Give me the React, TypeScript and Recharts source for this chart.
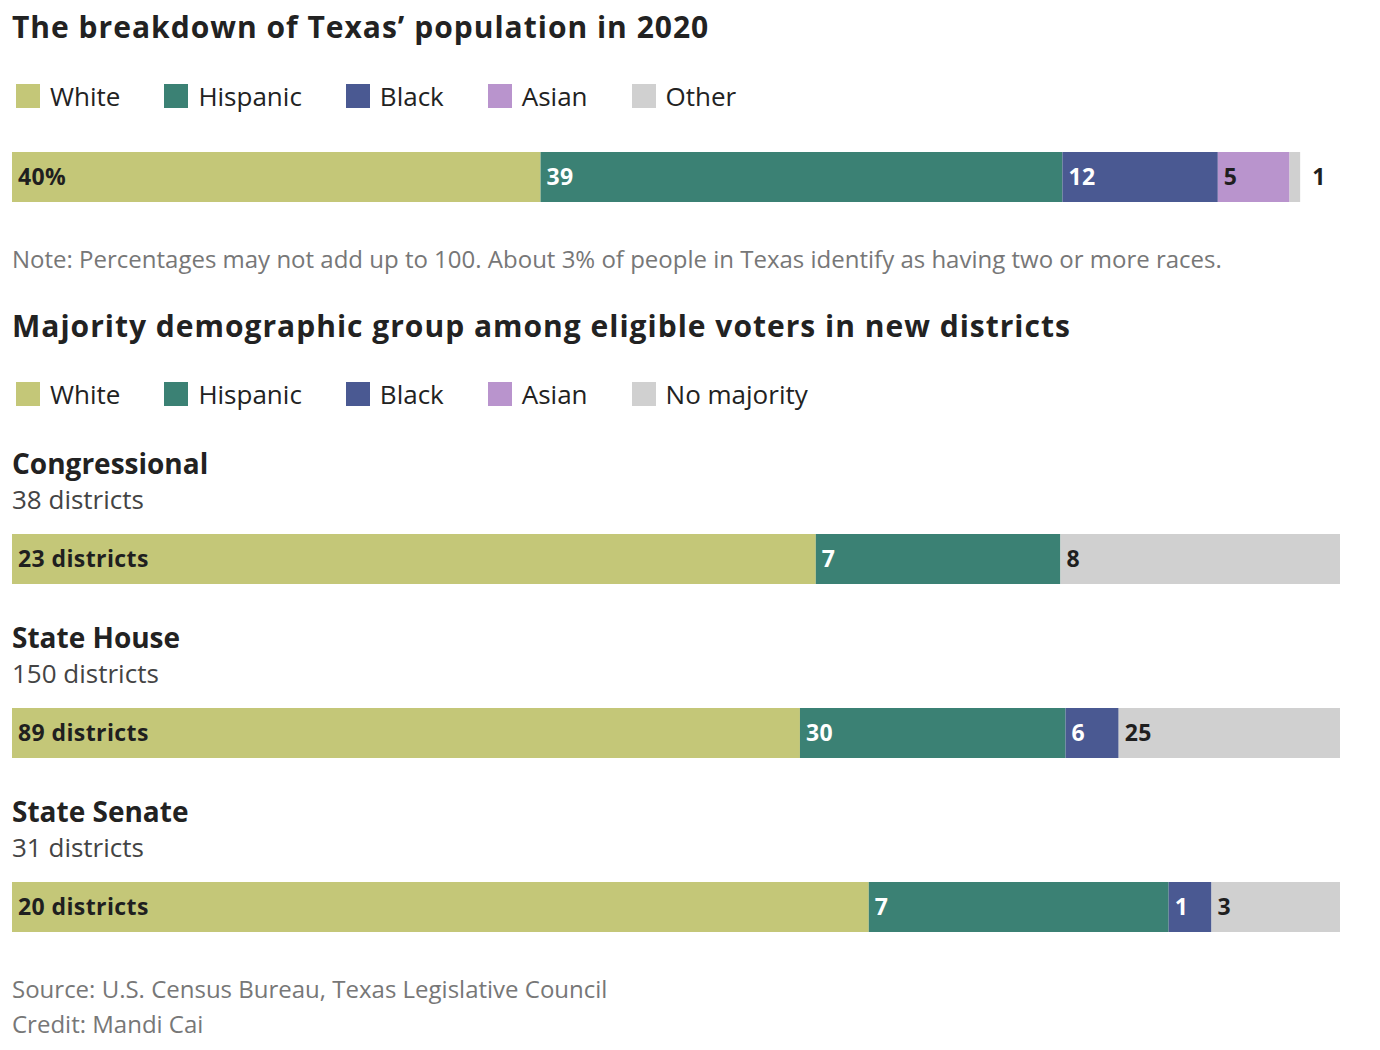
import React from 'react';
import { BarChart, Bar, XAxis, YAxis, LabelList } from 'recharts';

// ---------- data ----------
const popCategories = ['White', 'Hispanic', 'Black', 'Asian', 'Other'];
const popValues = [39.8, 39.3, 11.7, 5.4, 0.8];
const popLabels = ['40%', '39', '12', '5', '1'];

const districtCategories = ['White', 'Hispanic', 'Black', 'Asian', 'No majority'];
const chambers = ['Congressional', 'State House', 'State Senate'];
const chamberTotals = [38, 150, 31];
const whiteDistricts = [23, 89, 20];
const hispanicDistricts = [7, 30, 7];
const blackDistricts = [0, 6, 1];
const asianDistricts = [0, 0, 0];
const noMajorityDistricts = [8, 25, 3];

// ---------- styles ----------
const COLORS = ['#c4c778', '#3b8174', '#4a5992', '#b994cd', '#d0d0d0'];
const LABEL_COLORS = ['#1f1f1f', '#ffffff', '#ffffff', '#1f1f1f', '#1f1f1f'];
const FONT = '"Open Sans", "Noto Sans", sans-serif';
const LEFT = 12;
const CHART_W = 1328;
const BAR_H = 50;

const abs = (top: number, extra: React.CSSProperties = {}): React.CSSProperties => ({
  position: 'absolute',
  left: LEFT,
  top,
  margin: 0,
  lineHeight: 1,
  whiteSpace: 'nowrap',
  ...extra,
});

function Legend({ top, items }: { top: number; items: string[] }) {
  return (
    <div style={{ position: 'absolute', left: 16, top, display: 'flex', alignItems: 'center', height: 26 }}>
      {items.map((name, i) => (
        <div key={name} style={{ display: 'flex', alignItems: 'center', marginRight: 44 }}>
          <div style={{ width: 24, height: 24, background: COLORS[i], marginRight: 10 }} />
          <span style={{ fontSize: 26, color: '#222', lineHeight: 1, fontFamily: FONT }}>{name}</span>
        </div>
      ))}
    </div>
  );
}

const makeLabel = (idx: number, fmt: (v: number) => string, outside = false) => (props: any) => {
  const { x, y, width, height, value } = props;
  if (!value) return null;
  const tx = outside ? x + width + 12 : x + 6;
  return (
    <text
      x={tx}
      y={y + height / 2 - 1.5}
      fill={outside ? '#1f1f1f' : LABEL_COLORS[idx]}
      fontFamily={FONT}
      fontWeight={700}
      fontSize={23}
      letterSpacing={0.4}
      dominantBaseline="central"
    >
      {fmt(value)}
    </text>
  );
};

function StackBar({
  top,
  keys,
  row,
  max,
  formats,
  outsideIdx = -1,
}: {
  top: number;
  keys: string[];
  row: Record<string, any>;
  max: number;
  formats: ((v: number) => string)[];
  outsideIdx?: number;
}) {
  return (
    <div style={{ position: 'absolute', left: LEFT, top }}>
      <BarChart
        width={CHART_W}
        height={BAR_H}
        data={[row]}
        layout="vertical"
        margin={{ top: 0, right: 0, bottom: 0, left: 0 }}
        barCategoryGap={0}
      >
        <XAxis type="number" hide domain={[0, max]} />
        <YAxis type="category" dataKey="name" hide />
        {keys.map((k, i) => (
          <Bar key={k} dataKey={k} stackId="s" fill={COLORS[i]} isAnimationActive={false}>
            <LabelList dataKey={k} content={makeLabel(i, formats[i], i === outsideIdx)} />
          </Bar>
        ))}
      </BarChart>
    </div>
  );
}

export default function App() {
  const popRow: Record<string, any> = { name: 'Texas' };
  popCategories.forEach((c, i) => (popRow[c] = popValues[i]));
  const popFormats = popLabels.map((l) => () => l);

  const seriesByChamber = [whiteDistricts, hispanicDistricts, blackDistricts, asianDistricts, noMajorityDistricts];
  const chamberTops = [449, 623, 797];

  const titleStyle: React.CSSProperties = { fontSize: 30, fontWeight: 700, color: '#222', letterSpacing: 1 };

  return (
    <div
      style={{
        position: 'absolute',
        left: 0,
        top: 0,
        width: 1380,
        height: 1050,
        background: '#fff',
        fontFamily: FONT,
        color: '#222',
      }}
    >
      <div style={abs(12, titleStyle)}>The breakdown of Texas’ population in 2020</div>
      <Legend top={83} items={popCategories} />
      <StackBar top={152} keys={popCategories} row={popRow} max={100} formats={popFormats} outsideIdx={4} />
      <div style={abs(247, { fontSize: 24, color: '#777' })}>
        Note: Percentages may not add up to 100. About 3% of people in Texas identify as having two or more races.
      </div>

      <div style={abs(311, titleStyle)}>
        Majority demographic group among eligible voters in new districts
      </div>
      <Legend top={381} items={districtCategories} />

      {chambers.map((ch, ci) => {
        const row: Record<string, any> = { name: ch };
        districtCategories.forEach((c, i) => (row[c] = seriesByChamber[i][ci]));
        const formats = districtCategories.map((_, i) =>
          i === 0 ? (v: number) => `${v} districts` : (v: number) => `${v}`
        );
        const t = chamberTops[ci];
        return (
          <React.Fragment key={ch}>
            <div style={abs(t, { fontSize: 28, fontWeight: 700, color: '#222' })}>{ch}</div>
            <div style={abs(t + 37, { fontSize: 26, color: '#444' })}>{chamberTotals[ci]} districts</div>
            <StackBar
              top={t + 85}
              keys={districtCategories}
              row={row}
              max={chamberTotals[ci]}
              formats={formats}
            />
          </React.Fragment>
        );
      })}

      <div style={abs(977, { fontSize: 24, color: '#777' })}>
        Source: U.S. Census Bureau, Texas Legislative Council
      </div>
      <div style={abs(1012, { fontSize: 24, color: '#777' })}>Credit: Mandi Cai</div>
    </div>
  );
}
